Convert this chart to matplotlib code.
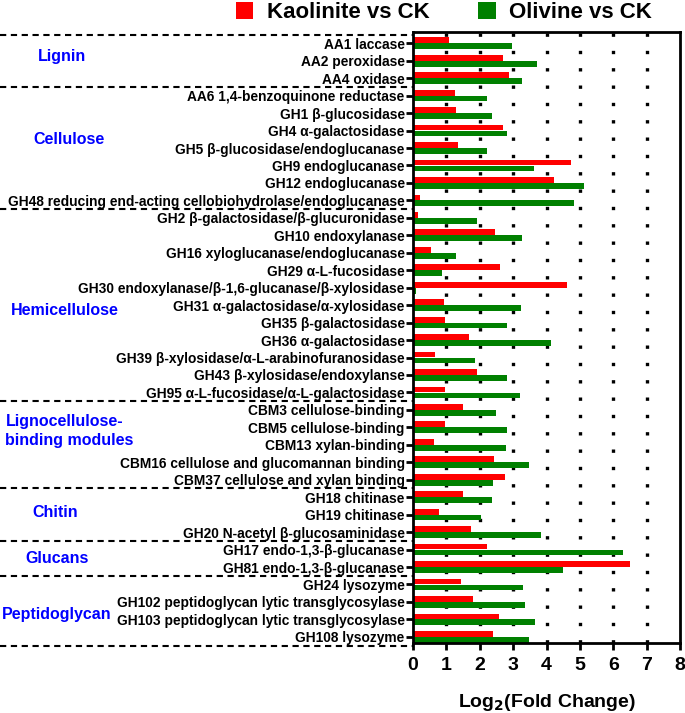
import matplotlib
matplotlib.use("Agg")
import matplotlib.pyplot as plt
import matplotlib.transforms as mtransforms
import numpy as np

plt.rcParams['font.family'] = ['Liberation Sans', 'DejaVu Sans']
plt.rcParams['font.weight'] = 'bold'

# enzyme families, top to bottom
enzymes = [
    "AA1 laccase", "AA2 peroxidase", "AA4 oxidase",
    "AA6 1,4-benzoquinone reductase", "GH1 β-glucosidase", "GH4 α-galactosidase",
    "GH5 β-glucosidase/endoglucanase", "GH9 endoglucanase", "GH12 endoglucanase",
    "GH48 reducing end-acting cellobiohydrolase/endoglucanase",
    "GH2 β-galactosidase/β-glucuronidase", "GH10 endoxylanase",
    "GH16 xyloglucanase/endoglucanase", "GH29 α-L-fucosidase",
    "GH30 endoxylanase/β-1,6-glucanase/β-xylosidase",
    "GH31 α-galactosidase/α-xylosidase", "GH35 β-galactosidase",
    "GH36 α-galactosidase", "GH39 β-xylosidase/α-L-arabinofuranosidase",
    "GH43 β-xylosidase/endoxylanse", "GH95 α-L-fucosidase/α-L-galactosidase",
    "CBM3 cellulose-binding", "CBM5 cellulose-binding", "CBM13 xylan-binding",
    "CBM16 cellulose and glucomannan binding", "CBM37 cellulose and xylan binding",
    "GH18 chitinase", "GH19 chitinase", "GH20 N-acetyl β-glucosaminidase",
    "GH17 endo-1,3-β-glucanase", "GH81 endo-1,3-β-glucanase",
    "GH24 lysozyme", "GH102 peptidoglycan lytic transglycosylase",
    "GH103 peptidoglycan lytic transglycosylase", "GH108 lysozyme",
]

kaolinite = [1.08, 2.70, 2.88, 1.25, 1.28, 2.68, 1.35, 4.73, 4.22, 0.20,
             0.16, 2.45, 0.55, 2.60, 4.60, 0.92, 0.97, 1.68, 0.67, 1.90, 0.95,
             1.50, 0.95, 0.62, 2.42, 2.75,
             1.50, 0.77, 1.75,
             2.20, 6.50,
             1.45, 1.80, 2.58, 2.38]

olivine = [2.97, 3.70, 3.25, 2.22, 2.35, 2.80, 2.20, 3.62, 5.12, 4.83,
           1.90, 3.25, 1.30, 0.88, 0.10, 3.22, 2.80, 4.13, 1.85, 2.82, 3.20,
           2.48, 2.82, 2.77, 3.48, 2.38,
           2.35, 2.03, 3.82,
           6.30, 4.50,
           3.30, 3.35, 3.65, 3.47]

# groups: name, number of rows
groups = ["Lignin", "Cellulose", "Hemicellulose", "Lignocellulose-\nbinding modules",
          "Chitin", "Glucans", "Peptidoglycan"]
group_sizes = [3, 7, 11, 5, 3, 2, 4]
# where the group names sit (row position) and their x in figure coords
group_label_rows = [0.75, 5.5, 15.3, 22.2, 26.9, 29.5, 32.7]
group_label_x = [0.09, 0.10, 0.095, 0.008, 0.08, 0.083, 0.083]
group_label_ha = ["center", "center", "center", "left", "center", "center", "center"]

fig = plt.figure(figsize=(6.85, 7.13), dpi=100)
ax = fig.add_axes([0.603, 0.098, 0.39, 0.857])

y = np.arange(len(enzymes))
h = 0.33
ax.barh(y - 0.17, kaolinite, height=h, color='#ff0000', label='Kaolinite vs CK')
ax.barh(y + 0.17, olivine, height=h, color='#008000', label='Olivine vs CK')

for xv in range(1, 8):
    ax.axvline(xv, color='black', lw=2.4, linestyle=(0, (1, 4.2)), zorder=0)

ax.set_ylim(len(enzymes) - 0.5 - 0.14, -0.5 - 0.14)
ax.set_xlim(0, 8)
ax.set_yticks(y)
ax.set_yticklabels(enzymes, fontsize=9.9, fontweight='bold')
ax.set_xticks(range(0, 9))
ax.tick_params(axis='x', labelsize=14, width=2, length=5, pad=5)
ax.tick_params(axis='y', width=2, length=5, pad=1)
for lab in ax.get_xticklabels():
    lab.set_fontweight('bold')
for sp in ax.spines.values():
    sp.set_linewidth(2)
ax.set_xlabel("Log$_\\mathbf{2}$(Fold Change)", fontsize=14, fontweight='bold', labelpad=13)

# dashed separators between groups, from figure edge to the axis
trans = mtransforms.blended_transform_factory(fig.transFigure, ax.transData)
bounds = np.concatenate([[0], np.cumsum(group_sizes)]) - 0.5
for b in bounds:
    ax.plot([0, 0.603], [b, b], transform=trans, color='black', lw=1.5,
            linestyle=(0, (3, 2.2)), clip_on=False)

for name, row, gx, ha in zip(groups, group_label_rows, group_label_x, group_label_ha):
    ax.text(gx, row, name, transform=trans, color='#0000ff', fontsize=11.5,
            fontweight='bold', ha=ha, va='center', linespacing=1.3)

fig.legend(loc='upper center', bbox_to_anchor=(0.648, 1.025), ncol=2, frameon=False,
           prop={'size': 16, 'weight': 'bold'}, handlelength=0.8, handleheight=0.8,
           columnspacing=2.2, handletextpad=0.6)

fig.savefig("out.png", dpi=100)
